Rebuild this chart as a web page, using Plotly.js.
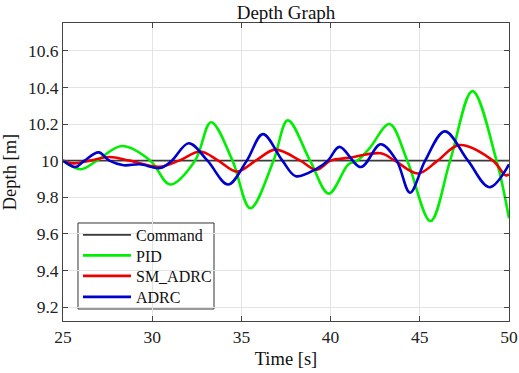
<!DOCTYPE html>
<html>
<head>
<meta charset="utf-8">
<script src="https://cdn.plot.ly/plotly-3.0.1.min.js"></script>
<style>html,body{margin:0;padding:0;background:#fff;}#chart{width:519px;height:373px;}</style>
</head>
<body>
<div id="chart"></div>
<script>
// Data
const cmdT = [25, 50];
const cmdY = [10, 10];

const pidT = [25, 26.0, 26.9, 28.3, 29.9, 31.0, 32.4, 33.3, 34.5, 35.5, 36.8, 37.6, 38.85, 39.9, 41.0, 41.5, 42.2, 43.3, 44.3, 45.6, 46.7, 47.95, 49.3, 50];
const pidY = [10.0, 9.953, 10.0, 10.08, 10.0, 9.87, 10.0, 10.21, 10.0, 9.74, 10.0, 10.22, 10.0, 9.82, 9.98, 10.0, 10.07, 10.2, 10.0, 9.67, 10.0, 10.38, 10.0, 9.685];

const smT = [25, 25.6, 26.5, 27.6, 28.75, 30.4, 31.5, 32.7, 33.7, 34.75, 35.8, 36.9, 38.3, 39.2, 40.0, 41.0, 42.8, 43.6, 44.9, 46.0, 47.2, 49.1, 49.8, 50];
const smY = [10.0, 9.985, 10.0, 10.02, 10.0, 9.967, 10.0, 10.05, 10.0, 9.94, 10.0, 10.06, 10.0, 9.95, 10.0, 10.015, 10.04, 10.0, 9.93, 10.0, 10.085, 10.0, 9.92, 9.925];

const adT = [25, 25.7, 26.2, 27.0, 27.6, 28.4, 29.3, 30.45, 31.1, 32.05, 33.1, 34.25, 35.3, 36.2, 37.3, 38.05, 39.2, 39.85, 40.5, 41.7, 42.8, 43.7, 44.45, 45.3, 46.4, 47.7, 48.9, 50];
const adY = [10.0, 9.965, 10.0, 10.045, 10.0, 9.975, 9.98, 9.96, 10.0, 10.095, 10.0, 9.87, 10.0, 10.145, 10.0, 9.915, 9.955, 10.0, 10.075, 9.965, 10.09, 10.0, 9.825, 10.0, 10.16, 10.0, 9.855, 9.98];

const seriesNames = ['Command', 'PID', 'SM_ADRC', 'ADRC'];
const xTicks = [25, 30, 35, 40, 45, 50];
const yTicks = [9.2, 9.4, 9.6, 9.8, 10, 10.2, 10.4, 10.6];
const yTickText = ['9.2', '9.4', '9.6', '9.8', '10', '10.2', '10.4', '10.6'];

const FONT = "'Liberation Serif', 'Times New Roman', Times, serif";
const W = 2.6;
const traces = [
  {x: cmdT, y: cmdY, name: seriesNames[0], legend: 'legend', mode: 'lines', line: {color: '#3a3a3a', width: 1.6}},
  {x: pidT, y: pidY, name: seriesNames[1], legend: 'legend2', mode: 'lines', line: {color: '#00ee00', width: W, shape: 'spline', smoothing: 1}},
  {x: smT, y: smY, name: seriesNames[2], legend: 'legend3', mode: 'lines', line: {color: '#ee0000', width: W, shape: 'spline', smoothing: 1}},
  {x: adT, y: adY, name: seriesNames[3], legend: 'legend4', mode: 'lines', line: {color: '#0000cc', width: W, shape: 'spline', smoothing: 1}}
];

const axisCommon = {
  showline: true, linecolor: '#444', linewidth: 1, mirror: 'ticks',
  ticks: 'inside', ticklen: 5, tickcolor: '#444',
  showgrid: true, gridcolor: '#e3e3e3', gridwidth: 1, zeroline: false,
  tickfont: {family: FONT, size: 17.5, color: '#222'}
};

function legendAt(yPaper) {
  return {
    x: 0.0336, y: yPaper, xanchor: 'left', yanchor: 'middle',
    bgcolor: 'rgba(0,0,0,0)', borderwidth: 0,
    font: {family: FONT, size: 16, color: '#111'},
    itemwidth: 48
  };
}

const layout = {
  width: 519, height: 373,
  margin: {l: 63, r: 10, t: 23, b: 52},
  paper_bgcolor: '#fff', plot_bgcolor: '#fff',
  font: {family: FONT, color: '#222'},
  title: {text: 'Depth Graph', font: {family: FONT, size: 19, color: '#111'}, x: 0.5, xref: 'paper', xanchor: 'center', y: 0.968, yref: 'container', yanchor: 'middle'},
  xaxis: Object.assign({}, axisCommon, {
    range: [25, 50], tickvals: xTicks, ticktext: xTicks.map(String),
    title: {text: 'Time [s]', font: {family: FONT, size: 18.5, color: '#111'}, standoff: 6}
  }),
  yaxis: Object.assign({}, axisCommon, {
    range: [9.124, 10.752], tickvals: yTicks, ticktext: yTickText,
    title: {text: 'Depth [m]', font: {family: FONT, size: 18.5, color: '#111'}, standoff: 6}
  }),
  showlegend: true,
  legend: legendAt(0.2886),
  legend2: legendAt(0.2198),
  legend3: legendAt(0.1510),
  legend4: legendAt(0.0805),
  shapes: [{
    type: 'rect', xref: 'paper', yref: 'paper', layer: 'between',
    x0: 0.0336, x1: 0.3386, y0: 0.0403, y1: 0.3289,
    fillcolor: '#fff', line: {color: '#333', width: 1}
  }]
};

Plotly.newPlot('chart', traces, layout, {displayModeBar: false, staticPlot: true});
</script>
</body>
</html>
